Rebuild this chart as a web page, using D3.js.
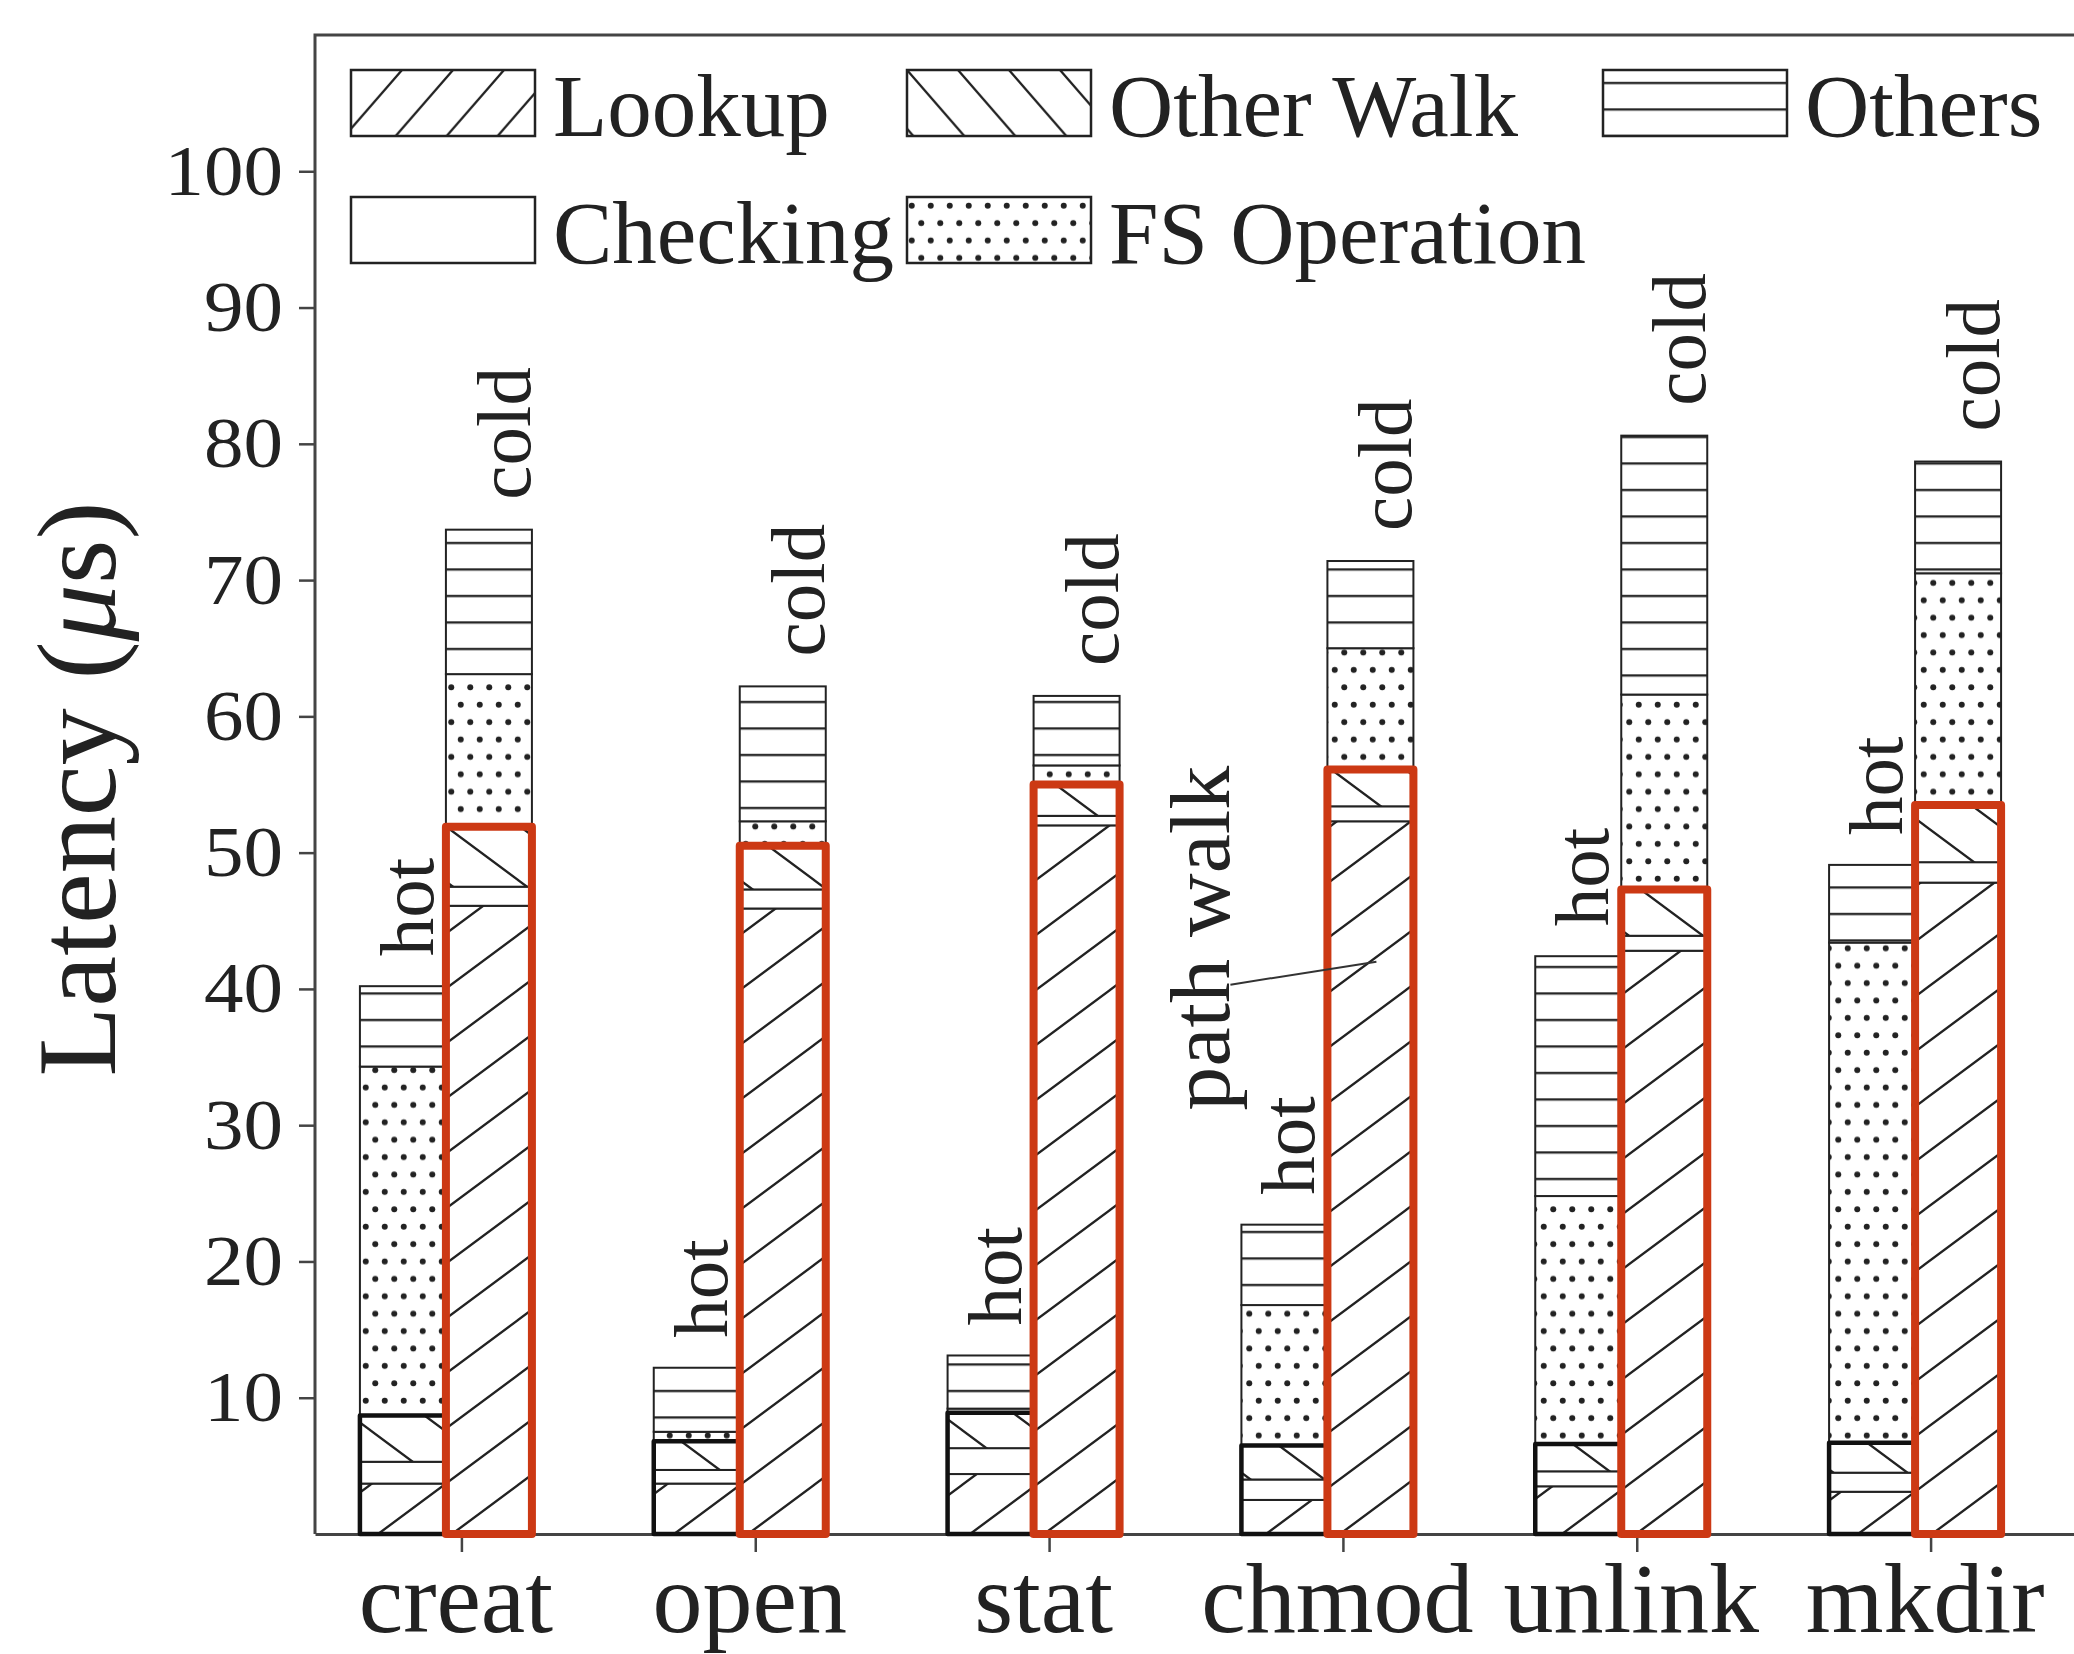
<!DOCTYPE html>
<html>
<head>
<meta charset="utf-8">
<script src="https://cdn.jsdelivr.net/npm/d3@7"></script>
<style>
body { margin: 0; background: #fff; }
text { font-family: "Liberation Serif", "Times New Roman", serif; fill: #222; }
</style>
</head>
<body>
<div id="chart"></div>
<script>
//-- Data --//
var categories = ["creat", "open", "stat", "chmod", "unlink", "mkdir"];
var parts = ["Lookup", "Checking", "Other Walk", "FS Operation", "Others"];
var pathParts = ["Lookup", "Checking", "Other Walk"];
var legendRows = [["Lookup", "Other Walk", "Others"], ["Checking", "FS Operation"]];
var yTicks = [10, 20, 30, 40, 50, 60, 70, 80, 90, 100];

// hot cache (left bar of each pair)
var hotLookup    = [3.7, 3.7, 4.4, 2.5, 3.5, 3.1];
var hotChecking  = [1.6, 1.0, 1.9, 1.5, 1.1, 1.4];
var hotOtherWalk = [3.4, 2.1, 2.6, 2.5, 2.0, 2.2];
var hotFS        = [25.6, 0.7, 0.3, 10.3, 18.2, 36.7];
var hotOthers    = [5.9, 4.7, 3.9, 5.9, 17.6, 5.7];

// cold cache (right bar of each pair)
var coldLookup    = [46.1, 45.9, 52.0, 52.3, 42.8, 47.8];
var coldChecking  = [1.4, 1.4, 0.7, 1.1, 1.1, 1.5];
var coldOtherWalk = [4.4, 3.2, 2.3, 2.7, 3.4, 4.2];
var coldFS        = [11.2, 1.8, 1.4, 8.9, 14.3, 17.0];
var coldOthers    = [10.6, 9.9, 5.1, 6.4, 19.0, 8.2];

var annotation = {cat: "chmod", value: 42, label: "path walk"};

//-- Setup --//
var W = 2074, H = 1654;
var x0 = 315, y0 = 1534, yTop = 35;
var barW = 86, hotOff = -102, coldOff = -16;
var red = "#cc3914", ink = "#222";

var svg = d3.select("#chart").append("svg")
  .attr("width", W).attr("height", H);
svg.append("rect").attr("width", W).attr("height", H).attr("fill", "#fff");

var x = d3.scaleBand().domain(categories).range([x0, 2078]).padding(0);
var y = d3.scaleLinear().domain([0, 110]).range([y0, yTop]);
function mid(c) { return x(c) + x.bandwidth() / 2; }

//-- Hatch patterns --//
var defs = svg.append("defs");
function hatch(id, w, h, dir) {
  var p = defs.append("pattern").attr("id", id)
    .attr("patternUnits", "userSpaceOnUse").attr("width", w).attr("height", h);
  p.append("rect").attr("width", w).attr("height", h).attr("fill", "#fff");
  var d = "";
  [-1, 0, 1].forEach(function(k) {
    if (dir > 0) d += "M" + (-w) + "," + h * (2 + k) + "L" + 2 * w + "," + h * (k - 1);
    else d += "M" + (-w) + "," + h * (k - 1) + "L" + 2 * w + "," + h * (k + 2);
  });
  p.append("path").attr("d", d).attr("stroke", ink).attr("stroke-width", 2.3).attr("fill", "none");
}
hatch("lookupPat", 74, 55, 1);
hatch("walkPat", 74, 55, -1);
hatch("lookupLeg", 51, 58.7, 1);
hatch("walkLeg", 51, 58.7, -1);

var op = defs.append("pattern").attr("id", "othersPat")
  .attr("patternUnits", "userSpaceOnUse").attr("width", 20).attr("height", 26.5);
op.append("rect").attr("width", 20).attr("height", 26.5).attr("fill", "#fff");
op.append("line").attr("x1", 0).attr("x2", 20).attr("y1", 13).attr("y2", 13)
  .attr("stroke", ink).attr("stroke-width", 2.3);

var dp = defs.append("pattern").attr("id", "dotPat")
  .attr("patternUnits", "userSpaceOnUse").attr("width", 19).attr("height", 34.8);
dp.append("rect").attr("width", 19).attr("height", 34.8).attr("fill", "#fff");
dp.append("circle").attr("cx", 4.75).attr("cy", 8.7).attr("r", 3).attr("fill", ink);
dp.append("circle").attr("cx", 14.25).attr("cy", 26.1).attr("r", 3).attr("fill", ink);

var fills = {"Lookup": "url(#lookupPat)", "Checking": "#fff", "Other Walk": "url(#walkPat)",
             "FS Operation": "url(#dotPat)", "Others": "url(#othersPat)"};
var legFills = {"Lookup": "url(#lookupLeg)", "Checking": "#fff", "Other Walk": "url(#walkLeg)",
                "FS Operation": "url(#dotPat)", "Others": "url(#othersPat)"};

//-- Axes --//
var yAxis = svg.append("g").attr("transform", "translate(" + x0 + ",0)")
  .call(d3.axisLeft(y).tickValues(yTicks).tickSize(16).tickPadding(16));
yAxis.select(".domain").remove();
yAxis.selectAll("line").attr("stroke", "#444").attr("stroke-width", 2.5);
yAxis.selectAll("text").attr("font-size", 72).attr("font-family", null)
  .attr("textLength", function(d) { return String(d).length * 39.5; })
  .attr("lengthAdjust", "spacingAndGlyphs");

var xAxis = svg.append("g").attr("transform", "translate(0," + y0 + ")")
  .call(d3.axisBottom(x).tickSize(18).tickSizeOuter(0));
xAxis.select(".domain").attr("stroke", "#444").attr("stroke-width", 3);
xAxis.selectAll("line").attr("stroke", "#444").attr("stroke-width", 2.5);
xAxis.selectAll("text").attr("font-size", 100).attr("font-family", null)
  .attr("y", 98).attr("dy", 0).attr("dx", -6);

// frame (left + top)
svg.append("path")
  .attr("d", "M" + x0 + "," + y0 + "V" + yTop + "H" + W)
  .attr("fill", "none").attr("stroke", "#444").attr("stroke-width", 3);

svg.append("text")
  .attr("transform", "translate(115," + 789 + ") rotate(-90)")
  .attr("text-anchor", "middle").attr("font-size", 113)
  .attr("textLength", 575).attr("lengthAdjust", "spacingAndGlyphs")
  .html('Latency (<tspan font-style="italic">μ</tspan>s)');

//-- Bars --//
function rows(L, C, Wk, F, O) {
  return categories.map(function(c, i) {
    return {cat: c, "Lookup": L[i], "Checking": C[i], "Other Walk": Wk[i], "FS Operation": F[i], "Others": O[i]};
  });
}
var hotRows = rows(hotLookup, hotChecking, hotOtherWalk, hotFS, hotOthers);
var coldRows = rows(coldLookup, coldChecking, coldOtherWalk, coldFS, coldOthers);
var stack = d3.stack().keys(parts);

function drawBars(data, off, outlineColor, outlineW) {
  var g = svg.append("g");
  g.selectAll("g.layer").data(stack(data)).enter().append("g").attr("class", "layer")
    .attr("fill", function(d) { return fills[d.key]; })
    .selectAll("rect").data(function(d) { return d; }).enter().append("rect")
    .attr("x", function(d) { return mid(d.data.cat) + off; })
    .attr("width", barW)
    .attr("y", function(d) { return y(d[1]); })
    .attr("height", function(d) { return y(d[0]) - y(d[1]); })
    .attr("stroke", ink).attr("stroke-width", 2);
  // "path walk" outline
  g.selectAll("rect.pw").data(data).enter().append("rect").attr("class", "pw")
    .attr("x", function(d) { return mid(d.cat) + off; })
    .attr("width", barW)
    .attr("y", function(d) { return y(d3.sum(pathParts, function(k) { return d[k]; })); })
    .attr("height", function(d) { return y0 - y(d3.sum(pathParts, function(k) { return d[k]; })); })
    .attr("fill", "none").attr("stroke", outlineColor).attr("stroke-width", outlineW)
    .attr("stroke-linejoin", "round");
}
drawBars(hotRows, hotOff, "#111", 4.5);
drawBars(coldRows, coldOff, red, 8);

//-- hot / cold labels --//
function total(d) { return d3.sum(parts, function(k) { return d[k]; }); }
svg.selectAll("text.hot").data(hotRows).enter().append("text").attr("class", "hot")
  .attr("transform", function(d) { return "translate(" + (mid(d.cat) - 29) + "," + (y(total(d)) - 30) + ") rotate(-90)"; })
  .attr("font-size", 77).text("hot");
svg.selectAll("text.cold").data(coldRows).enter().append("text").attr("class", "cold")
  .attr("transform", function(d) { return "translate(" + (mid(d.cat) + 68) + "," + (y(total(d)) - 30) + ") rotate(-90)"; })
  .attr("font-size", 77).text("cold");

//-- path walk annotation --//
var ax = mid(annotation.cat);
svg.append("line")
  .attr("x1", ax - 113).attr("y1", y(annotation.value) + 23)
  .attr("x2", ax + 33).attr("y2", y(annotation.value))
  .attr("stroke", "#333").attr("stroke-width", 2);
svg.append("text")
  .attr("transform", "translate(" + (ax - 114) + "," + (y(annotation.value) + 149) + ") rotate(-90)")
  .attr("font-size", 84).attr("textLength", 345).attr("lengthAdjust", "spacingAndGlyphs")
  .text(annotation.label);

//-- Legend --//
var legX = [351, 907, 1603], legY = [70, 197];
legendRows.forEach(function(row, r) {
  var lg = svg.append("g").selectAll("g").data(row).enter().append("g")
    .attr("transform", function(d, i) { return "translate(" + legX[i] + "," + legY[r] + ")"; });
  lg.append("rect").attr("width", 184).attr("height", 66)
    .attr("fill", function(d) { return legFills[d]; })
    .attr("stroke", ink).attr("stroke-width", 2.5);
  lg.append("text").attr("x", 202).attr("y", 66).attr("font-size", 89)
    .text(function(d) { return d; });
});
</script>
</body>
</html>
